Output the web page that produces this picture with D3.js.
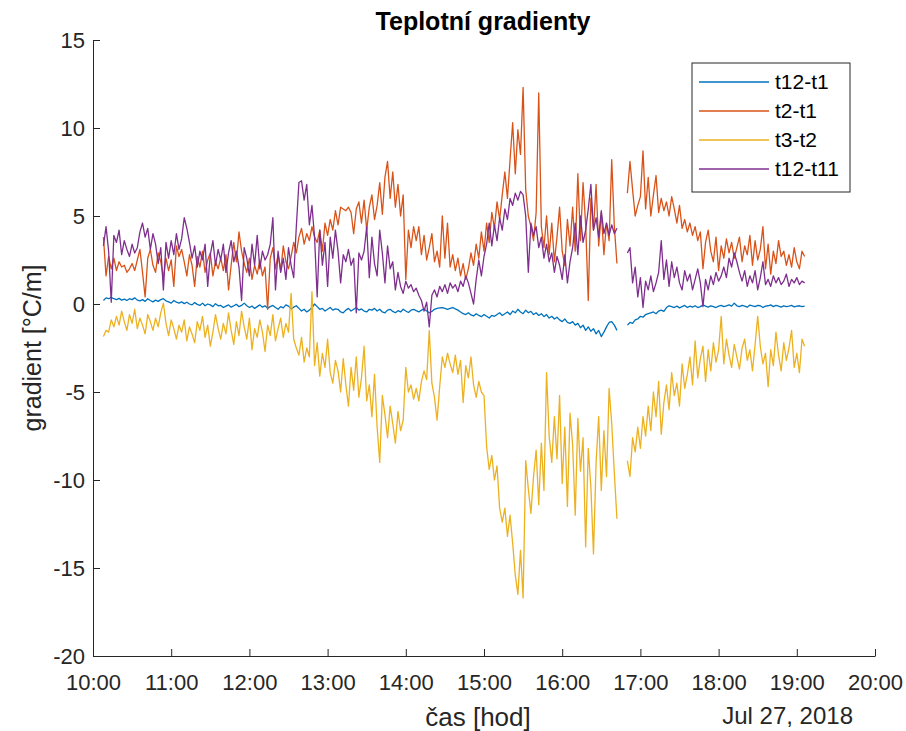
<!DOCTYPE html>
<html>
<head>
<meta charset="utf-8">
<script src="https://cdn.jsdelivr.net/npm/d3@7"></script>
<style>
  html, body { margin: 0; padding: 0; background: #fff; }
  svg { display: block; font-family: "Liberation Sans", Arial, Helvetica, sans-serif; }
</style>
</head>
<body>
<svg id="chart" width="906" height="731"></svg>
<script>
// Samples every 2 minutes on 27 Jul 2018, 10:08 – 19:06 (null = logger gap 16:44–16:48)
const startHour = 10, startMinute = 8, stepMinutes = 2;

const seriesNames = ["t12-t1", "t2-t1", "t3-t2", "t12-t11"];
const seriesColors = ["#0072BD", "#D95319", "#EDB120", "#7E2F8E"];

const t12_t1 = [
  0.2,0.35,0.3,0.38,0.3,0.25,0.32,0.22,0.28,0.2,0.3,0.25,0.35,0.22,0.18,
  0.25,0.15,0.3,0.2,0.12,0.22,0.15,0.25,0.3,0.18,0.12,0.05,0.2,0.1,0.05,
  0.12,0.02,0.1,0.0,-0.05,0.08,-0.02,-0.08,0.05,-0.1,0.0,-0.05,-0.15,0.02,-0.1,
  -0.08,-0.2,-0.12,-0.05,-0.18,-0.1,-0.02,-0.15,-0.08,0.05,-0.1,-0.2,-0.12,-0.25,-0.15,
  -0.05,-0.18,-0.1,-0.25,-0.15,-0.08,-0.2,-0.3,-0.15,-0.22,-0.05,-0.12,-0.28,-0.18,-0.1,
  -0.25,-0.4,-0.3,-0.45,-0.35,-0.2,0.0,-0.15,-0.3,-0.25,-0.4,-0.3,-0.2,-0.35,-0.28,
  -0.3,-0.45,-0.5,-0.35,-0.25,-0.4,-0.3,-0.2,-0.35,-0.28,-0.4,-0.45,-0.3,-0.35,-0.25,
  -0.4,-0.3,-0.45,-0.5,-0.35,-0.3,-0.42,-0.5,-0.38,-0.45,-0.3,-0.4,-0.48,-0.35,-0.3,
  -0.38,-0.45,-0.35,-0.28,-0.4,-0.5,-0.42,-0.3,-0.25,-0.22,-0.2,-0.25,-0.3,-0.25,-0.2,
  -0.28,-0.35,-0.45,-0.55,-0.6,-0.5,-0.62,-0.68,-0.55,-0.65,-0.72,-0.6,-0.7,-0.8,-0.65,
  -0.7,-0.6,-0.5,-0.65,-0.55,-0.45,-0.6,-0.4,-0.5,-0.3,-0.45,-0.55,-0.35,-0.5,-0.42,
  -0.6,-0.5,-0.65,-0.55,-0.72,-0.6,-0.8,-0.7,-0.85,-0.75,-0.9,-1.0,-0.85,-1.05,-1.1,
  -1.0,-1.2,-1.1,-1.35,-1.2,-1.5,-1.3,-1.55,-1.4,-1.7,-1.5,-1.85,-1.6,-1.3,-1.05,
  -1.0,-1.2,-1.5,null,null,null,-1.2,-1.05,-1.1,-0.9,-0.85,-0.7,-0.75,-0.6,-0.55,
  -0.5,-0.45,-0.55,-0.4,-0.35,-0.42,-0.2,-0.1,-0.15,-0.2,-0.12,-0.22,-0.15,-0.08,-0.2,
  -0.12,-0.18,-0.1,-0.2,-0.15,-0.05,-0.12,-0.18,-0.1,-0.15,-0.2,-0.12,-0.08,-0.15,-0.1,
  -0.05,-0.12,0.05,-0.1,-0.15,-0.08,-0.12,-0.18,-0.06,-0.1,-0.15,-0.08,-0.1,-0.2,-0.12,
  -0.1,-0.05,-0.15,-0.08,-0.12,-0.18,-0.1,-0.15,-0.12,-0.08,-0.16,-0.12,-0.1,-0.15,-0.12
];

const t2_t1 = [
  3.8,1.6,2.7,2.0,2.6,1.9,2.4,2.1,2.2,1.8,2.0,2.3,1.9,2.5,3.1,
  1.8,0.4,2.6,3.1,2.2,1.8,2.9,2.4,1.5,2.6,1.9,2.5,1.0,3.3,2.7,
  3.1,2.4,1.6,2.8,2.2,1.0,2.7,2.1,3.0,1.8,2.5,2.9,1.6,2.4,2.0,
  2.6,1.9,2.8,0.8,2.2,3.5,2.4,4.1,3.0,2.3,1.8,2.6,1.4,2.2,1.7,
  2.5,1.6,2.1,-0.3,2.6,3.2,2.0,2.8,1.9,3.3,2.4,2.0,2.7,3.5,2.9,
  3.8,4.3,3.4,4.0,3.6,4.4,3.8,3.5,4.2,3.0,4.6,3.9,4.8,4.2,5.3,
  4.5,5.5,5.4,5.3,5.5,5.2,4.0,5.4,5.8,4.6,5.9,4.2,5.5,6.2,4.8,
  5.6,6.9,5.1,7.2,8.1,6.0,7.5,5.5,6.8,5.0,6.2,1.4,4.2,3.2,4.4,
  3.6,4.4,2.8,3.9,2.5,3.2,4.0,2.4,3.0,2.1,5.0,2.6,4.6,2.1,2.8,
  1.9,2.6,1.6,2.3,1.4,2.0,2.9,2.2,3.4,2.6,4.1,3.0,4.6,3.5,5.2,
  4.3,5.8,4.8,6.2,7.5,6.0,8.2,10.3,7.4,9.9,8.5,12.3,6.5,5.0,4.4,
  3.6,5.2,12.0,4.4,3.2,5.0,2.8,4.6,2.4,3.8,5.5,3.0,2.2,4.8,3.3,
  5.5,3.0,7.4,3.6,6.9,4.5,0.2,6.0,4.2,6.8,3.3,5.2,2.8,4.6,3.6,
  8.2,4.4,2.3,null,null,null,6.3,8.1,6.5,5.0,5.6,6.1,8.7,5.4,7.2,
  5.0,6.2,7.3,5.2,6.0,5.3,5.8,5.0,6.1,5.4,4.6,5.6,4.3,4.8,4.1,
  4.6,3.9,4.4,3.6,4.1,2.0,3.5,4.2,3.0,2.4,3.8,1.9,3.3,2.6,3.7,
  2.9,3.5,2.6,3.2,3.8,2.4,3.3,2.8,3.9,2.2,3.6,2.5,3.1,4.4,2.0,
  3.4,1.7,3.0,2.3,3.6,2.7,3.0,2.2,2.8,2.1,3.2,2.4,2.0,3.0,2.7
];

const t3_t2 = [
  -1.85,-1.5,-1.6,-0.9,-1.3,-0.7,-1.2,-0.4,-1.0,-1.5,-0.6,-1.1,-0.3,-1.4,-0.8,
  -1.2,-1.7,-0.6,-1.0,-1.5,-0.8,-1.3,-0.5,0.05,-1.1,-1.8,-0.9,-1.4,-2.0,-1.2,
  -1.6,-0.9,-2.1,-1.3,-1.7,-2.2,-1.0,-1.5,-0.7,-1.9,-1.2,-2.4,-1.6,-0.6,-1.4,
  -2.0,-1.1,-1.7,-0.5,-1.5,-2.3,-1.0,-1.8,-0.4,-1.3,-2.0,-0.8,-2.6,-1.4,-1.9,
  -0.9,-1.6,-2.7,-1.2,-1.8,-0.6,-2.1,-1.4,-0.8,-1.9,-1.1,-1.6,0.6,-2.0,-2.5,
  -2.9,-1.9,-3.3,-2.5,-3.0,0.7,-3.5,-2.2,-4.1,-2.8,-3.6,-2.0,-3.9,-4.5,-3.2,
  -3.8,-5.0,-3.1,-4.6,-5.8,-3.6,-4.9,-3.0,-5.3,-4.2,-2.4,-5.5,-4.6,-6.4,-4.0,
  -7.0,-9.0,-5.2,-6.3,-7.6,-5.8,-6.8,-7.9,-6.1,-7.2,-6.6,-3.6,-5.0,-4.6,-5.4,
  -4.8,-5.5,-4.4,-3.8,-4.3,-1.5,-4.5,-5.3,-6.6,-4.7,-3.0,-3.6,-2.8,-3.4,-3.9,
  -2.9,-4.0,-3.2,-5.6,-3.5,-4.2,-3.0,-4.6,-5.3,-4.4,-5.0,-5.2,-8.1,-9.4,-8.6,
  -10.0,-9.2,-11.6,-12.4,-11.6,-13.2,-12.0,-13.6,-15.4,-16.5,-14.0,-16.7,-8.9,-10.5,-11.9,
  -9.8,-8.3,-11.4,-7.9,-10.6,-3.9,-7.5,-9.0,-6.4,-8.8,-5.2,-10.2,-7.0,-11.5,-6.2,
  -8.0,-12.0,-6.5,-9.5,-7.6,-13.8,-8.2,-10.4,-14.2,-9.0,-6.4,-10.6,-7.2,-9.8,-4.8,
  -6.8,-9.6,-12.2,null,null,null,-8.9,-9.8,-7.6,-8.4,-7.0,-8.2,-6.4,-7.5,-5.8,
  -7.2,-5.0,-6.4,-4.4,-7.4,-5.6,-4.6,-6.0,-3.9,-5.2,-4.5,-5.8,-3.4,-4.8,-4.0,
  -3.0,-4.6,-2.1,-4.2,-3.1,-2.4,-4.4,-2.6,-3.8,-2.2,-3.3,-2.6,-0.7,-3.4,-2.0,
  -2.9,-3.6,-2.3,-3.0,-3.7,-2.5,-2.0,-3.2,-2.6,-3.8,-2.3,-0.7,-2.4,-3.4,-2.8,
  -4.7,-2.6,-3.5,-1.6,-2.9,-3.8,-2.2,-3.2,-2.5,-1.5,-3.6,-2.8,-3.9,-2.0,-2.4
];

const t12_t11 = [
  3.3,4.4,3.0,0.1,3.9,3.5,4.2,2.8,3.6,3.1,2.7,3.4,2.9,3.2,4.1,
  4.6,3.8,4.3,3.1,4.0,3.4,2.3,3.2,0.8,3.5,2.6,3.6,2.8,4.0,3.1,
  3.7,4.9,4.3,3.5,2.6,3.3,2.1,3.0,2.5,3.4,1.0,2.8,3.6,2.2,3.1,
  2.5,3.4,1.8,2.9,3.6,2.4,3.0,2.1,0.2,3.2,2.6,1.6,3.4,2.2,3.9,
  2.0,3.0,2.5,2.8,3.4,4.9,0.8,3.0,1.8,2.6,1.4,3.2,2.2,1.5,4.4,
  6.9,7.0,5.9,6.8,4.5,5.6,3.8,0.4,4.2,2.2,3.5,1.0,3.8,2.6,4.2,
  3.0,1.2,2.8,2.4,3.1,2.2,2.6,-0.5,2.9,2.5,3.0,4.4,1.5,3.8,2.3,
  1.6,4.2,2.9,1.2,3.3,2.0,2.4,0.8,1.8,1.0,0.6,1.3,0.9,1.1,0.7,
  0.9,0.5,0.2,-0.4,0.1,-1.3,0.5,0.8,0.4,1.0,0.7,1.1,0.6,1.2,0.9,
  1.1,0.7,1.3,1.0,1.6,1.2,0.6,0.0,1.4,2.5,1.6,2.7,3.4,4.6,3.3,
  4.5,3.6,4.9,4.2,5.4,4.8,6.0,5.6,6.3,5.9,6.4,6.2,5.0,1.8,4.6,
  3.9,4.4,3.2,3.8,2.6,3.4,2.4,2.9,1.8,2.7,2.2,1.4,2.8,1.2,2.4,
  3.2,4.6,2.8,5.0,3.5,4.2,5.4,6.8,4.2,4.9,3.8,5.3,4.0,4.6,3.9,
  4.5,4.0,4.3,null,null,null,2.9,3.2,1.2,2.1,0.4,1.5,-0.2,1.3,0.8,
  1.6,0.7,1.2,1.8,3.6,1.4,2.5,1.0,2.4,1.5,2.1,1.2,0.8,1.9,1.3,
  1.7,0.8,1.4,2.0,1.2,-0.15,1.4,0.8,1.6,1.1,1.8,1.3,1.6,2.1,1.5,
  2.6,2.1,2.9,2.4,1.8,1.3,1.9,1.0,1.6,1.2,1.9,0.8,1.5,2.4,1.1,
  1.4,1.0,1.6,1.2,1.5,1.1,1.3,1.7,1.0,1.4,1.2,1.5,1.1,1.3,1.2
];

const yTicks = [-20, -15, -10, -5, 0, 5, 10, 15];
const xDomain = [new Date(2018, 6, 27, 10, 0), new Date(2018, 6, 27, 20, 0)];

const chartTitle = "Teplotní gradienty";
const xLabel = "čas [hod]";
const yLabel = "gradient [°C/m]";
const dateLabel = "Jul 27, 2018";

// ---- layout ----
const svg = d3.select("#chart");
const margin = { left: 93, right: 31, top: 40, bottom: 75 };
const W = 906, H = 731;
const axisColor = "#262626";
const fontStack = '"Liberation Sans", Arial, Helvetica, sans-serif';

const times = t12_t1.map((_, i) =>
  new Date(2018, 6, 27, startHour, startMinute + stepMinutes * i));
const allSeries = [t12_t1, t2_t1, t3_t2, t12_t11];

const x = d3.scaleTime().domain(xDomain).range([margin.left, W - margin.right]);
const y = d3.scaleLinear().domain([-20, 15]).range([H - margin.bottom, margin.top]);

// axes (ticks pointing inward, no box)
const xAxis = d3.axisBottom(x)
  .ticks(d3.timeHour.every(1))
  .tickFormat(d3.timeFormat("%H:%M"))
  .tickSizeInner(-7).tickSizeOuter(0).tickPadding(18);
const yAxis = d3.axisLeft(y)
  .tickValues(yTicks)
  .tickFormat(d => String(d))
  .tickSizeInner(-7).tickSizeOuter(0).tickPadding(8);

const gx = svg.append("g")
  .attr("transform", `translate(0,${H - margin.bottom})`)
  .call(xAxis);
const gy = svg.append("g")
  .attr("transform", `translate(${margin.left},0)`)
  .call(yAxis);

[gx, gy].forEach(g => {
  g.select(".domain").attr("stroke", axisColor).attr("stroke-width", 1);
  g.selectAll(".tick line").attr("stroke", axisColor).attr("stroke-width", 1);
  g.selectAll(".tick text")
    .attr("fill", axisColor)
    .style("font-size", "22px")
    .style("font-family", fontStack);
});
gx.selectAll(".tick text").attr("dy", "0.71em");

// series lines
const line = d3.line()
  .defined(d => d.v !== null)
  .x(d => x(d.t))
  .y(d => y(d.v));

allSeries.forEach((vals, k) => {
  svg.append("path")
    .datum(vals.map((v, i) => ({ t: times[i], v })))
    .attr("fill", "none")
    .attr("stroke", seriesColors[k])
    .attr("stroke-width", 1.3)
    .attr("stroke-linejoin", "round")
    .attr("d", line);
});

// title and axis labels
svg.append("text")
  .attr("x", 483).attr("y", 30)
  .attr("text-anchor", "middle")
  .style("font-size", "25px").style("font-weight", "bold")
  .attr("fill", "#000")
  .text(chartTitle);

svg.append("text")
  .attr("x", 478).attr("y", 726)
  .attr("text-anchor", "middle")
  .style("font-size", "26px")
  .attr("fill", axisColor)
  .text(xLabel);

svg.append("text")
  .attr("x", 853).attr("y", 724)
  .attr("text-anchor", "end")
  .style("font-size", "24px")
  .attr("fill", axisColor)
  .text(dateLabel);

svg.append("text")
  .attr("transform", `translate(41,${(margin.top + H - margin.bottom) / 2}) rotate(-90)`)
  .attr("text-anchor", "middle")
  .style("font-size", "25px")
  .attr("fill", axisColor)
  .text(yLabel);

// legend
const legend = svg.append("g").attr("transform", "translate(692,63)");
legend.append("rect")
  .attr("width", 158).attr("height", 129)
  .attr("fill", "#fff").attr("stroke", axisColor).attr("stroke-width", 1);
seriesNames.forEach((name, k) => {
  const yy = 19 + k * 29;
  legend.append("line")
    .attr("x1", 7).attr("x2", 77).attr("y1", yy).attr("y2", yy)
    .attr("stroke", seriesColors[k]).attr("stroke-width", 1.3);
  legend.append("text")
    .attr("x", 83).attr("y", yy).attr("dy", "0.35em")
    .style("font-size", "21px")
    .attr("fill", "#000")
    .text(name);
});
</script>
</body>
</html>
